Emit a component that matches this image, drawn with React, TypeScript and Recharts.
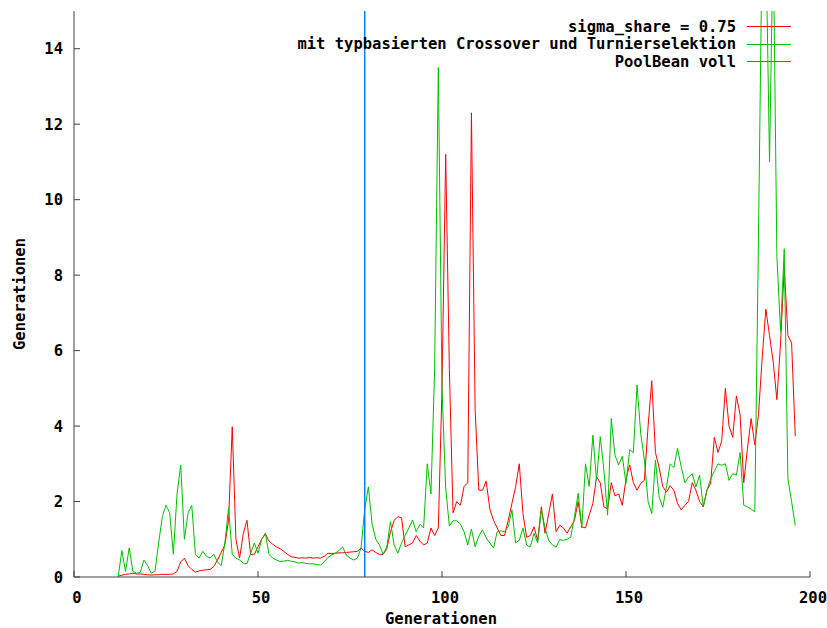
import React from 'react';
import { LineChart, Line, XAxis, YAxis, ReferenceLine, Legend } from 'recharts';

// erste Generation, ab der beide Läufe Werte haben
const FIRST_GEN = 12;

// sigma_share = 0.75
const sigmaShare = [
  0.02, 0.05, 0.07, 0.08, 0.1, 0.08, 0.08, 0.07, 0.06, 0.05,
  0.06, 0.06, 0.07, 0.07, 0.07, 0.08, 0.15, 0.4, 0.5, 0.3,
  0.2, 0.13, 0.16, 0.18, 0.19, 0.2, 0.28, 0.45, 0.65, 0.85,
  1.5, 3.98, 1.0, 0.5, 1.15, 1.5, 0.6, 0.6, 0.8, 1.0,
  1.14, 0.95, 0.87, 0.8, 0.75, 0.68, 0.6, 0.54, 0.52, 0.5,
  0.51, 0.5, 0.52, 0.5, 0.51, 0.5, 0.55, 0.63, 0.62, 0.63,
  0.64, 0.64, 0.65, 0.66, 0.67, 0.68, 0.77, 0.68, 0.65, 0.72,
  0.65, 0.6, 0.6, 0.75, 1.2, 1.5, 1.6, 1.57, 0.8, 0.85,
  0.9, 1.1, 0.95, 0.85, 0.9, 1.3, 1.1, 1.3, 5.0, 11.2,
  5.5, 1.7, 2.0, 1.9, 2.4, 2.5, 12.3, 4.46, 2.3, 2.3,
  2.54, 1.8, 1.5, 1.3, 1.1, 1.1, 1.5, 1.95, 2.39, 3.0,
  1.68, 1.05, 1.1, 1.33, 0.97, 1.86, 1.16, 1.68, 2.2, 1.2,
  1.37, 1.3, 1.16, 1.33, 1.5, 2.0, 1.33, 1.3, 1.64, 1.95,
  2.66, 2.5, 1.86, 1.8, 2.5, 2.15, 2.2, 1.9, 2.6, 2.97,
  2.5, 2.3, 2.48, 2.56, 4.0, 5.2, 3.3, 2.9, 2.39, 2.25,
  2.42, 2.3, 1.95, 1.78, 1.9, 2.0, 2.5, 2.3, 2.0, 1.86,
  2.3, 2.48, 3.7, 3.3, 3.6, 5.0, 4.0, 3.7, 4.8, 4.3,
  2.5, 3.4, 4.2, 3.5, 4.3, 5.8, 7.1, 6.4, 5.7, 4.7,
  6.2, 8.2, 6.4, 6.2, 3.73,
];

// mit typbasierten Crossover und Turnierselektion
const typbasiert = [
  0.0, 0.7, 0.15, 0.77, 0.15, 0.1, 0.12, 0.45, 0.3, 0.1,
  0.15, 0.9, 1.6, 1.9, 1.7, 0.6, 2.2, 2.97, 1.0, 1.7,
  1.9, 0.6, 0.5, 0.68, 0.55, 0.5, 0.6, 0.4, 0.3, 0.9,
  1.83, 0.6, 0.5, 0.45, 0.37, 0.35, 0.63, 0.9, 0.63, 1.0,
  1.16, 0.6, 0.5, 0.45, 0.41, 0.42, 0.44, 0.42, 0.4, 0.37,
  0.38, 0.36, 0.35, 0.35, 0.33, 0.32, 0.4, 0.52, 0.58, 0.63,
  0.7, 0.8, 0.58, 0.5, 0.45, 0.5, 0.77, 1.8, 2.39, 1.4,
  1.0, 0.85, 0.6, 0.8, 1.47, 0.85, 0.63, 0.9, 1.1, 1.3,
  1.51, 1.2, 1.4, 1.3, 3.0, 2.2, 5.5, 13.5, 5.0, 2.36,
  1.35, 1.49, 1.49, 1.4, 1.2, 0.85, 1.27, 0.8, 1.08, 1.25,
  1.04, 0.9, 0.77, 1.2, 1.22, 1.2, 1.33, 1.78, 0.91, 0.97,
  1.3, 0.85, 0.8, 1.16, 0.9, 1.78, 1.3, 0.97, 0.85, 0.79,
  0.99, 0.97, 1.0, 1.06, 1.6, 2.22, 1.3, 3.0, 2.4, 3.76,
  2.56, 3.72, 2.83, 1.64, 4.2, 3.23, 2.97, 3.2, 2.48, 3.37,
  3.3, 5.09, 3.8, 3.1, 2.0, 1.68, 3.1, 2.12, 1.85, 2.39,
  3.0, 2.9, 3.41, 2.92, 2.5, 2.65, 2.74, 2.39, 2.7, 1.86,
  2.3, 2.6, 2.8, 3.0, 2.96, 3.0, 2.56, 2.74, 2.7, 3.3,
  1.9, 1.86, 1.8, 1.73, 9.0, 17, 17, 11.0, 17, 8.5,
  6.5, 8.7, 2.6, 2.0, 1.36,
];

const poolBeanVoll = 79;
const xTicks = [0, 50, 100, 150, 200];
const yTicks = [0, 2, 4, 6, 8, 10, 12, 14];

const series = [
  { key: 'sigma', name: 'sigma_share = 0.75', color: '#ff0000' },
  { key: 'typ', name: 'mit typbasierten Crossover und Turnierselektion', color: '#00c000' },
  { key: 'pool', name: 'PoolBean voll', color: '#0080ff' },
];

const data = sigmaShare.map((v, i) => ({
  gen: FIRST_GEN + i,
  sigma: v,
  typ: typbasiert[i],
}));

const FONT = '"DejaVu Sans Mono", "Liberation Mono", monospace';
const AXIS = '#404040';
const tickStyle = { fill: '#000', fontSize: 15.5, fontWeight: 'bold', fontFamily: FONT };

function LegendBox() {
  return (
    <div style={{ fontFamily: FONT, fontSize: 15.5, fontWeight: 'bold', color: '#000' }}>
      {series.map((s) => (
        <div
          key={s.key}
          style={{ display: 'flex', justifyContent: 'flex-end', alignItems: 'center', height: 17.5 }}
        >
          <span style={{ whiteSpace: 'pre' }}>{s.name}</span>
          <span style={{ width: 44, marginLeft: 11, borderTop: `1px solid ${s.color}` }} />
        </div>
      ))}
    </div>
  );
}

const axisTitle: React.CSSProperties = {
  position: 'absolute',
  fontFamily: FONT,
  fontSize: 15.5,
  fontWeight: 'bold',
  lineHeight: '16px',
  whiteSpace: 'pre',
};

export default function App() {
  return (
    <div style={{ position: 'absolute', left: 0, top: 0, width: 827, height: 628, background: '#fff' }}>
      <LineChart
        width={827}
        height={628}
        data={data}
        margin={{ top: 11, right: 17, bottom: 21, left: 0 }}
      >
        {/* negative tickSize: Striche zeigen nach innen wie bei gnuplot */}
        <XAxis
          xAxisId="x"
          dataKey="gen"
          type="number"
          domain={[0, 200]}
          ticks={xTicks}
          allowDataOverflow
          height={30}
          axisLine={{ stroke: AXIS }}
          tickLine={{ stroke: AXIS }}
          tickSize={-6}
          tickMargin={21}
          tick={{ ...tickStyle, dx: 3 }}
        />
        <XAxis
          xAxisId="xt"
          orientation="top"
          type="number"
          domain={[0, 200]}
          ticks={xTicks}
          allowDataOverflow
          height={0}
          axisLine={{ stroke: AXIS }}
          tickLine={{ stroke: AXIS }}
          tickSize={-6}
          tick={false}
        />
        <YAxis
          yAxisId="y"
          type="number"
          domain={[0, 15]}
          ticks={yTicks}
          allowDataOverflow
          width={74}
          axisLine={{ stroke: AXIS }}
          tickLine={{ stroke: AXIS }}
          tickSize={-6}
          tickMargin={17}
          tick={tickStyle}
        />
        <YAxis
          yAxisId="yr"
          orientation="right"
          type="number"
          domain={[0, 15]}
          ticks={yTicks}
          allowDataOverflow
          width={0}
          axisLine={{ stroke: AXIS }}
          tickLine={{ stroke: AXIS }}
          tickSize={-6}
          tick={false}
        />
        <Line
          xAxisId="x"
          yAxisId="y"
          type="linear"
          dataKey="sigma"
          name={series[0].name}
          stroke={series[0].color}
          strokeWidth={1}
          dot={false}
          isAnimationActive={false}
        />
        <Line
          xAxisId="x"
          yAxisId="y"
          type="linear"
          dataKey="typ"
          name={series[1].name}
          stroke={series[1].color}
          strokeWidth={1}
          dot={false}
          isAnimationActive={false}
        />
        <ReferenceLine
          xAxisId="x"
          yAxisId="y"
          x={poolBeanVoll}
          stroke={series[2].color}
          strokeWidth={1.5}
        />
        <Legend
          layout="vertical"
          align="center"
          verticalAlign="middle"
          content={<LegendBox />}
          wrapperStyle={{ position: 'absolute', left: 0, top: 18, width: 791 }}
        />
      </LineChart>
      <div
        style={{
          ...axisTitle,
          left: 20,
          top: 294,
          transform: 'translate(-50%, -50%) rotate(-90deg)',
        }}
      >
        Generationen
      </div>
      <div
        style={{
          ...axisTitle,
          left: 441,
          top: 619,
          transform: 'translate(-50%, -50%)',
        }}
      >
        Generationen
      </div>
    </div>
  );
}
